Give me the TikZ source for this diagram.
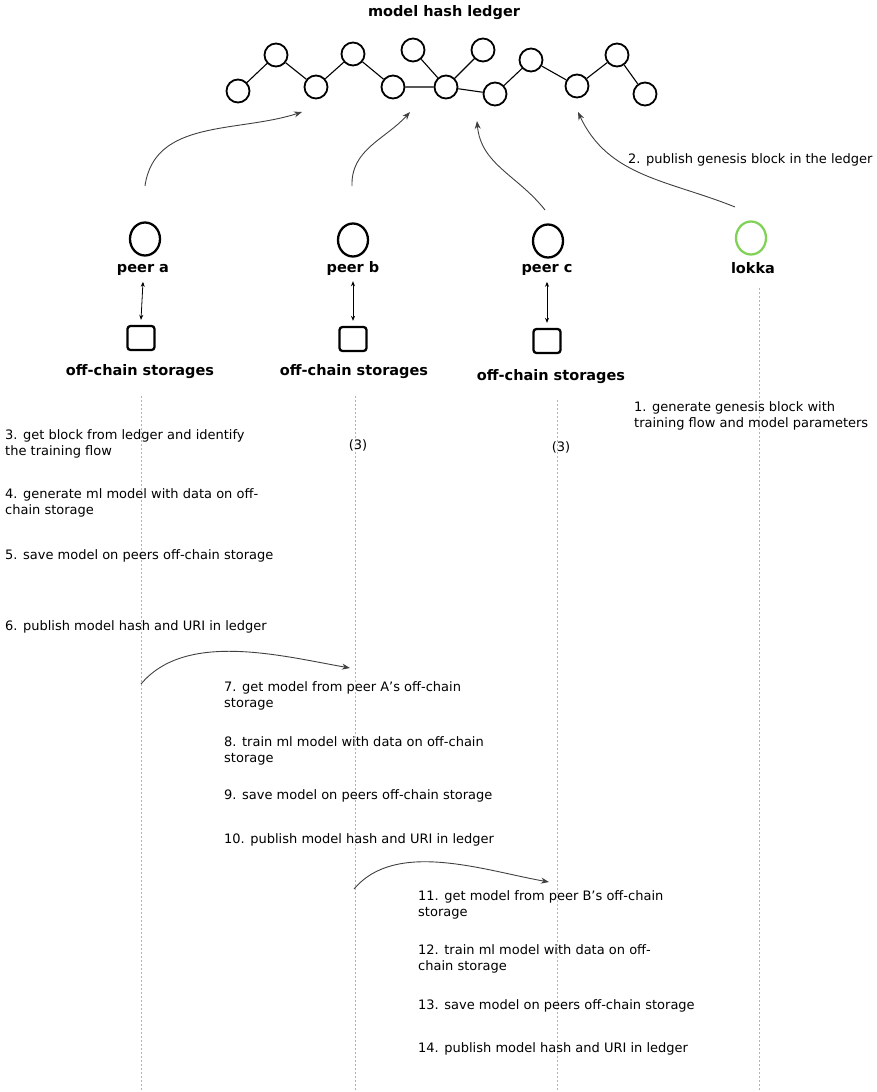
\documentclass[tikz,border=0pt]{standalone}
\usepackage{fontspec}
\setmainfont{DejaVu Sans}
\usetikzlibrary{arrows.meta,shapes.geometric}
\begin{document}
\begin{tikzpicture}[x=1pt,y=-1pt,
  block/.style={circle,draw,line width=1.8pt,minimum size=23pt,inner sep=0pt},
  peer/.style={ellipse,draw,line width=2.3pt,minimum width=30pt,minimum height=33pt,inner sep=0pt},
  store/.style={draw,line width=2.3pt,rounded corners=3pt,minimum width=27pt,minimum height=24pt,inner sep=0pt},
  chain/.style={line width=1.1pt},
  lbl/.style={font=\bfseries\fontsize{14.5}{16}\selectfont,inner sep=0pt},
  note/.style={font=\fontsize{13}{16.5}\selectfont,align=left,anchor=west,inner sep=0pt},
  publish/.style={draw=black!75,line width=0.9pt,-{Stealth[length=8pt,width=6pt]}},
  link/.style={line width=0.8pt,{Stealth[length=5pt,width=4pt]}-{Stealth[length=5pt,width=4pt]}},
  life/.style={draw=black!30,line width=0.5pt,dash pattern=on 2pt off 2pt}
]
\useasboundingbox (0,0) rectangle (876,1092);

% ledger title and block chain
\node[lbl] (title) at (444,13) {model hash ledger};
\node[block] (l1) at (238,91) {};
\node[block] (l2) at (276,55) {};
\node[block] (l3) at (316,87) {};
\node[block] (l4) at (353,54) {};
\node[block] (l5) at (393,87) {};
\node[block] (l6) at (413,50) {};
\node[block] (l7) at (446,87) {};
\node[block] (l8) at (483,50) {};
\node[block] (l9) at (495,94) {};
\node[block] (l10) at (531,60) {};
\node[block] (l11) at (577,86) {};
\node[block] (l12) at (617,55) {};
\node[block] (l13) at (645,94) {};
\draw[chain] (l1)--(l2) (l2)--(l3) (l3)--(l4) (l4)--(l5) (l5)--(l7) (l6)--(l7)
  (l7)--(l8) (l7)--(l9) (l9)--(l10) (l10)--(l11) (l11)--(l12) (l12)--(l13);

% peers and the lokka node
\node[peer] (pa) at (145,239) {};
\node[peer] (pb) at (353,240) {};
\node[peer] (pc) at (548,241) {};
\node[peer,draw={rgb,255:red,130;green,210;blue,90}] (lk) at (751,238) {};
\node[lbl] (pal) at (143,270) {peer a};
\node[lbl] (pbl) at (353,268) {peer b};
\node[lbl] (pcl) at (547,270) {peer c};
\node[lbl] (lkl) at (753,268) {lokka};

% off-chain storages
\node[store] (sa) at (141,338) {};
\node[store] (sb) at (353,339) {};
\node[store] (sc) at (547,341) {};
\node[lbl] (sal) at (140,372) {off-chain storages};
\node[lbl] (sbl) at (354,372) {off-chain storages};
\node[lbl] (scl) at (551,377) {off-chain storages};
\draw[link] ([yshift=-6pt]pal.south) -- ([yshift=5pt]sa.north);
\draw[link] ([yshift=-6pt]pbl.south) -- ([yshift=5pt]sb.north);
\draw[link] ([yshift=-6pt]pcl.south) -- ([yshift=5pt]sc.north);

% publishing into the ledger
\coordinate (aa) at (145,186);
\coordinate (ab) at (352,186);
\coordinate (ac) at (545,210);
\coordinate (ak) at (735,207);
\coordinate (ta) at (302,112);
\coordinate (tb) at (410,112);
\coordinate (tc) at (477,121);
\coordinate (tk) at (578,112);
\draw[publish] (aa) to[out=82,in=198] (ta);
\draw[publish] (ab) to[out=92,in=228] (tb);
\draw[publish] (ac) to[out=128,in=275] (tc);
\draw[publish] (ak) to[out=158,in=295] (tk);
\node[note] (n2) at (628,160) {2. publish genesis block in the ledger};

% lifelines
\coordinate (ea) at (141,1092);
\coordinate (eb) at (355,1092);
\coordinate (ec) at (557,1092);
\coordinate (ek) at (759,1092);
\draw[life] (141,396) -- (ea);
\draw[life] (355,396) -- (eb);
\draw[life] (557,400) -- (ec);
\draw[life] (759,288) -- (ek);

% steps
\node[note] (n1) at (634,416) {1. generate genesis block with\\training flow and model parameters};
\node[note] (n3) at (5,444) {3. get block from ledger and identify\\the training flow};
\node[inner sep=0pt,font=\fontsize{13}{14}\selectfont] (n3b) at (358,445) {(3)};
\node[inner sep=0pt,font=\fontsize{13}{14}\selectfont] (n3c) at (561,447) {(3)};
\node[note] (n4) at (5,503) {4. generate ml model with data on off-\\chain storage};
\node[note] (n5) at (5,556) {5. save model on peers off-chain storage};
\node[note] (n6) at (5,627) {6. publish model hash and URI in ledger};

\coordinate (fa) at (141,684);
\coordinate (fb) at (350,668);
\draw[publish] (fa) to[out=50,in=170,looseness=0.85] (fb);
\node[note] (n7) at (224,696) {7. get model from peer A's off-chain\\storage};
\node[note] (n8) at (224,751) {8. train ml model with data on off-chain\\storage};
\node[note] (n9) at (224,796) {9. save model on peers off-chain storage};
\node[note] (n10) at (224,840) {10. publish model hash and URI in ledger};

\coordinate (fc) at (354,889);
\coordinate (fd) at (549,882);
\draw[publish] (fc) to[out=50,in=170,looseness=0.85] (fd);
\node[note] (n11) at (418,905) {11. get model from peer B's off-chain\\storage};
\node[note] (n12) at (418,959) {12. train ml model with data on off-\\chain storage};
\node[note] (n13) at (418,1006) {13. save model on peers off-chain storage};
\node[note] (n14) at (418,1049) {14. publish model hash and URI in ledger};
\end{tikzpicture}
\end{document}
